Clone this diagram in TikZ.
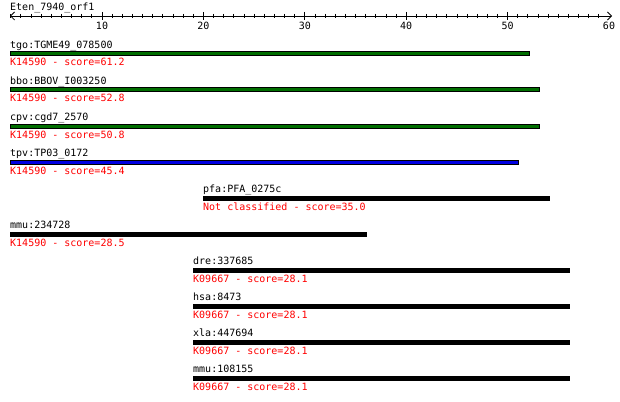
\documentclass[tikz,border=0pt]{standalone}
\usepackage{fontspec}
\setmonofont{DejaVu Sans Mono}
\usetikzlibrary{arrows.meta}

\definecolor{hitgreen}{RGB}{0,110,0}
\definecolor{hitblue}{RGB}{0,0,225}

\begin{document}
\begin{tikzpicture}[x=1pt,y=-1pt,
  lbl/.style={anchor=base west,inner sep=0pt,font=\ttfamily\fontsize{10}{12}\selectfont},
  score/.style={lbl,text=red},
  num/.style={anchor=base,inner sep=0pt,font=\ttfamily\fontsize{10}{12}\selectfont},
  hitbar/.style={draw=black,line width=1pt}]
  \useasboundingbox (0,0) rectangle (620,401);
  % ruler
  \node[lbl] (query) at (10,10.5) {Eten\_7940\_orf1};
  \coordinate (axl) at (10,16);
  \coordinate (axr) at (612,16);
  \draw[line width=0.8pt,{Straight Barb[length=4pt,width=8pt]}-{Straight Barb[length=4pt,width=8pt]}] (axl) -- (axr);
  \foreach \p in {1,...,59}
    \draw[line width=0.8pt] ({0.6+10.14*\p},14) -- ({0.6+10.14*\p},18);
  \foreach \p in {10,20,...,50}
    \draw[line width=0.8pt] ({0.6+10.14*\p},12) -- ({0.6+10.14*\p},20);
  \foreach \p in {10,20,...,60}
    \node[num] (tick\p) at ({0.6+10.14*\p},30) {\p};

  % hits
  \node[lbl] (tgo) at (10,48.5) {tgo:TGME49\_078500};
  \draw[hitbar,fill=hitgreen] (10,52) rectangle (529,56);
  \node[score] (tgoscore) at (10,66) {K14590 - score=61.2};

  \node[lbl] (bbo) at (10,84.5) {bbo:BBOV\_I003250};
  \draw[hitbar,fill=hitgreen] (10,88) rectangle (539,92);
  \node[score] (bboscore) at (10,102) {K14590 - score=52.8};

  \node[lbl] (cpv) at (10,120.5) {cpv:cgd7\_2570};
  \draw[hitbar,fill=hitgreen] (10,124) rectangle (539,128);
  \node[score] (cpvscore) at (10,138) {K14590 - score=50.8};

  \node[lbl] (tpv) at (10,156.5) {tpv:TP03\_0172};
  \draw[hitbar,fill=hitblue] (10,160) rectangle (518,164);
  \node[score] (tpvscore) at (10,174) {K14590 - score=45.4};

  \node[lbl] (pfa) at (203,192.5) {pfa:PFA\_0275c};
  \draw[hitbar,fill=black] (203,196) rectangle (549,200);
  \node[score] (pfascore) at (203,210) {Not classified - score=35.0};

  \node[lbl] (mmua) at (10,228.5) {mmu:234728};
  \draw[hitbar,fill=black] (10,232) rectangle (366,236);
  \node[score] (mmuascore) at (10,246) {K14590 - score=28.5};

  \node[lbl] (dre) at (193,264.5) {dre:337685};
  \draw[hitbar,fill=black] (193,268) rectangle (569,272);
  \node[score] (drescore) at (193,282) {K09667 - score=28.1};

  \node[lbl] (hsa) at (193,300.5) {hsa:8473};
  \draw[hitbar,fill=black] (193,304) rectangle (569,308);
  \node[score] (hsascore) at (193,318) {K09667 - score=28.1};

  \node[lbl] (xla) at (193,336.5) {xla:447694};
  \draw[hitbar,fill=black] (193,340) rectangle (569,344);
  \node[score] (xlascore) at (193,354) {K09667 - score=28.1};

  \node[lbl] (mmub) at (193,372.5) {mmu:108155};
  \draw[hitbar,fill=black] (193,376) rectangle (569,380);
  \node[score] (mmubscore) at (193,390) {K09667 - score=28.1};
\end{tikzpicture}
\end{document}
